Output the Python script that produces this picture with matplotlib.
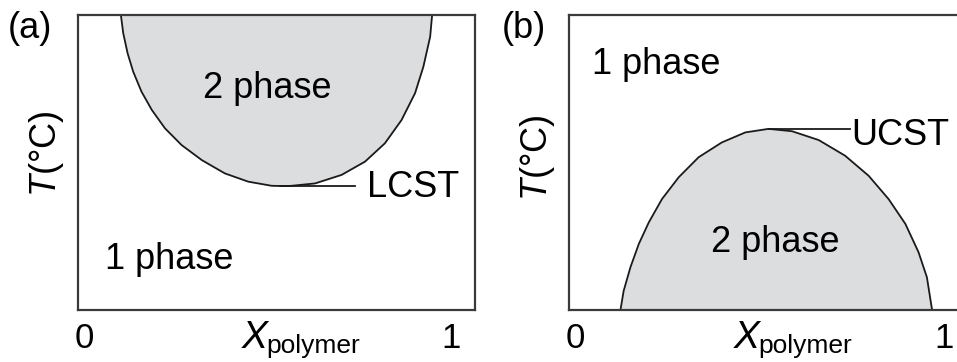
import matplotlib.pyplot as plt

plt.rcParams['font.family'] = ['Liberation Sans', 'DejaVu Sans']
plt.rcParams['mathtext.fontset'] = 'custom'
plt.rcParams['mathtext.it'] = 'Liberation Sans:italic'
plt.rcParams['mathtext.rm'] = 'Liberation Sans'

# binodal, LCST type (x = polymer fraction, y = scaled T)
lcst_x = [0.108, 0.114, 0.125, 0.139, 0.160, 0.186, 0.219, 0.261, 0.312,
          0.370, 0.429, 0.488, 0.530, 0.597, 0.664, 0.723, 0.773, 0.815,
          0.849, 0.870, 0.887, 0.892]
lcst_y = [1.000, 0.938, 0.870, 0.808, 0.740, 0.678, 0.616, 0.559, 0.508,
          0.463, 0.435, 0.421, 0.420, 0.429, 0.458, 0.503, 0.565, 0.644,
          0.735, 0.825, 0.926, 1.000]

# binodal, UCST type
ucst_x = [0.129, 0.137, 0.154, 0.175, 0.200, 0.233, 0.275, 0.325, 0.383,
          0.442, 0.500, 0.559, 0.626, 0.692, 0.751, 0.801, 0.843, 0.876,
          0.897, 0.910]
ucst_y = [0.000, 0.065, 0.145, 0.224, 0.297, 0.376, 0.450, 0.518, 0.568,
          0.602, 0.614, 0.606, 0.576, 0.523, 0.455, 0.376, 0.292, 0.196,
          0.111, 0.000]

lcst_pt = (0.509, 0.420)
ucst_pt = (0.500, 0.614)

fill_col = '#dcdddf'
edge_col = '#3a3a3a'
line_col = '#1a1a1a'
fs = 26

fig = plt.figure(figsize=(9.57, 3.62), dpi=100)
W, H = 957, 362
axa = fig.add_axes([78 / W, 1 - 310 / H, 397 / W, 295 / H])
axb = fig.add_axes([569 / W, 1 - 310 / H, 399 / W, 295 / H])


def frame(ax, ylab_y):
    ax.set_xlim(0, 1)
    ax.set_ylim(0, 1)
    ax.set_xticks([])
    ax.set_yticks([])
    for s in ax.spines.values():
        s.set_color(edge_col)
        s.set_linewidth(1.6)
    ax.text(0.017, -0.041, '0', transform=ax.transAxes, fontsize=fs - 1,
            ha='center', va='top')
    ax.text(0.94, -0.041, '1', transform=ax.transAxes, fontsize=fs - 1,
            ha='center', va='top')
    ax.text(-0.079, ylab_y, r'$T$(°C)', transform=ax.transAxes, fontsize=fs,
            rotation=90, ha='center', va='center')
    ax.text(0.410, -0.035, r'$X$', transform=ax.transAxes, fontsize=fs + 2,
            ha='left', va='top')
    ax.text(0.474, -0.146, 'polymer', transform=ax.transAxes, fontsize=19,
            ha='left', va='baseline')


# (a) LCST
frame(axa, 0.53)
axa.fill_between(lcst_x, lcst_y, 1, color=fill_col, lw=0)
axa.plot(lcst_x, lcst_y, color=line_col, lw=1.3)
axa.plot([lcst_pt[0], 0.698], [lcst_pt[1], lcst_pt[1]], color=line_col, lw=1.3)
axa.text(0.728, 0.383, 'LCST', fontsize=fs, ha='left', va='baseline')
axa.text(0.476, 0.719, '2 phase', fontsize=fs, ha='center', va='baseline')
axa.text(0.230, 0.139, '1 phase', fontsize=fs, ha='center', va='baseline')
fig.text(8 / W, 1 - 28 / H, '(a)', fontsize=fs, ha='left', va='center')

# (b) UCST
frame(axb, 0.515)
axb.fill_between(ucst_x, 0, ucst_y, color=fill_col, lw=0)
axb.plot(ucst_x, ucst_y, color=line_col, lw=1.3)
axb.plot([ucst_pt[0], 0.704], [ucst_pt[1], ucst_pt[1]], color=line_col, lw=1.3)
axb.text(0.708, 0.559, 'UCST', fontsize=fs, ha='left', va='baseline')
axb.text(0.516, 0.197, '2 phase', fontsize=fs, ha='center', va='baseline')
axb.text(0.219, 0.800, '1 phase', fontsize=fs, ha='center', va='baseline')
fig.text(502 / W, 1 - 29 / H, '(b)', fontsize=fs, ha='left', va='center')

fig.savefig('out.png', dpi=100)
